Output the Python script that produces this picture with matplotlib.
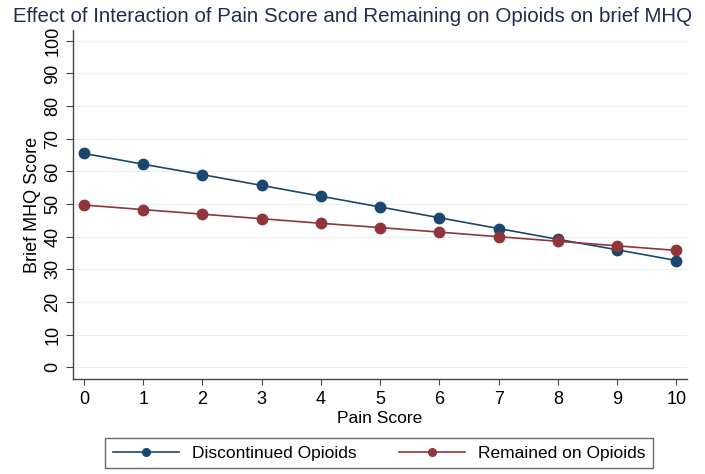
import matplotlib
matplotlib.use("Agg")
import matplotlib.pyplot as plt
from matplotlib.lines import Line2D

pain = [0, 1, 2, 3, 4, 5, 6, 7, 8, 9, 10]
discontinued = [65.5, 62.2, 59.0, 55.7, 52.4, 49.1, 45.8, 42.5, 39.2, 36.0, 32.7]
remained = [49.7, 48.3, 46.9, 45.5, 44.1, 42.8, 41.4, 40.0, 38.6, 37.2, 35.8]
yticks = [0, 10, 20, 30, 40, 50, 60, 70, 80, 90, 100]
labels = ["Discontinued Opioids", "Remained on Opioids"]
title = "Effect of Interaction of Pain Score and Remaining on Opioids on brief MHQ"

plt.rcParams['font.family'] = ['Liberation Sans', 'DejaVu Sans']

W, H = 705, 474
fig = plt.figure(figsize=(W / 100, H / 100), dpi=100)
left, right, top, bottom = 72.7, 687, 30, 379
ax = fig.add_axes([left / W, 1 - bottom / H, (right - left) / W, (bottom - top) / H])

blue = "#1a476f"
red = "#90353b"
ax.plot(pain, discontinued, color=blue, marker='o', markersize=7.5, lw=1.2)
ax.plot(pain, remained, color=red, marker='o', markersize=7.5, lw=1.2)

ax.set_xlim(-0.19, 10.18)
ax.set_ylim(-3.58, 103.3)
ax.set_xticks(pain)
ax.set_yticks(yticks)
ax.set_yticklabels([str(v) for v in yticks], rotation=90, va='center')
ax.tick_params(axis='x', labelsize=13, length=4.5, width=0.8, color='#444444', pad=4)
ax.tick_params(axis='y', labelsize=13, length=4.8, width=0.8, color='#444444', pad=3.5)
ax.grid(axis='y', color='#eaf0f2', lw=0.8)
ax.set_axisbelow(True)
for s in ['top', 'right']:
    ax.spines[s].set_visible(False)
for s in ['left', 'bottom']:
    ax.spines[s].set_linewidth(1.0)
    ax.spines[s].set_color('#444444')

ax.set_xlabel("Pain Score", fontsize=12.5, labelpad=2)
ax.set_ylabel("Brief MHQ Score", fontsize=13)
ax.yaxis.set_label_coords((41 - left) / (right - left), 0.5)
fig.text(0.5, 0.985, title, ha='center', va='top', fontsize=14.8, color='#1e2d4f')

handles = [Line2D([], [], color=blue, marker='o', markersize=5.5, lw=1.2),
           Line2D([], [], color=red, marker='o', markersize=5.5, lw=1.2)]
leg = fig.legend(handles, labels, loc='center', bbox_to_anchor=(0.538, 0.0443), ncol=2,
                 fontsize=12.5, frameon=True, fancybox=False, edgecolor='#444444',
                 handlelength=3.8, handletextpad=0.75, columnspacing=2.45, borderpad=0.45)
leg.get_frame().set_linewidth(1.0)

fig.savefig("out.png", dpi=100)
